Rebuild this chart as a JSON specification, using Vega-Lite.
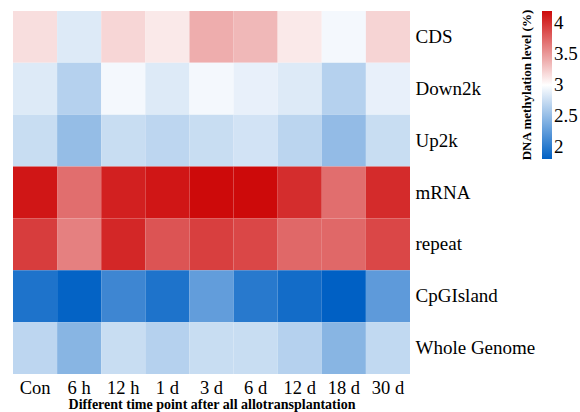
{
  "$schema": "https://vega.github.io/schema/vega-lite/v6.json",
  "width": 397,
  "height": 363,
  "autosize": "none",
  "padding": {"left": 13, "top": 11, "right": 170, "bottom": 38},
  "background": "white",
  "config": {
    "view": {"stroke": null},
    "font": "Liberation Serif",
    "legend": {"labelFont": "Liberation Serif", "titleFont": "Liberation Serif"}
  },
  "data": {
    "values": [
      {"region": "CDS", "time": "Con", "level": 3.16},
      {"region": "CDS", "time": "6 h", "level": 2.84},
      {"region": "CDS", "time": "12 h", "level": 3.2},
      {"region": "CDS", "time": "1 d", "level": 3.11},
      {"region": "CDS", "time": "3 d", "level": 3.4},
      {"region": "CDS", "time": "6 d", "level": 3.35},
      {"region": "CDS", "time": "12 d", "level": 3.11},
      {"region": "CDS", "time": "18 d", "level": 2.95},
      {"region": "CDS", "time": "30 d", "level": 3.21},
      {"region": "Down2k", "time": "Con", "level": 2.84},
      {"region": "Down2k", "time": "6 h", "level": 2.65},
      {"region": "Down2k", "time": "12 h", "level": 2.95},
      {"region": "Down2k", "time": "1 d", "level": 2.84},
      {"region": "Down2k", "time": "3 d", "level": 2.95},
      {"region": "Down2k", "time": "6 d", "level": 2.89},
      {"region": "Down2k", "time": "12 d", "level": 2.84},
      {"region": "Down2k", "time": "18 d", "level": 2.65},
      {"region": "Down2k", "time": "30 d", "level": 2.89},
      {"region": "Up2k", "time": "Con", "level": 2.74},
      {"region": "Up2k", "time": "6 h", "level": 2.5},
      {"region": "Up2k", "time": "12 h", "level": 2.74},
      {"region": "Up2k", "time": "1 d", "level": 2.69},
      {"region": "Up2k", "time": "3 d", "level": 2.74},
      {"region": "Up2k", "time": "6 d", "level": 2.79},
      {"region": "Up2k", "time": "12 d", "level": 2.68},
      {"region": "Up2k", "time": "18 d", "level": 2.49},
      {"region": "Up2k", "time": "30 d", "level": 2.74},
      {"region": "mRNA", "time": "Con", "level": 4.14},
      {"region": "mRNA", "time": "6 h", "level": 3.71},
      {"region": "mRNA", "time": "12 h", "level": 4.09},
      {"region": "mRNA", "time": "1 d", "level": 4.14},
      {"region": "mRNA", "time": "3 d", "level": 4.2},
      {"region": "mRNA", "time": "6 d", "level": 4.2},
      {"region": "mRNA", "time": "12 d", "level": 4.03},
      {"region": "mRNA", "time": "18 d", "level": 3.71},
      {"region": "mRNA", "time": "30 d", "level": 4.04},
      {"region": "repeat", "time": "Con", "level": 3.95},
      {"region": "repeat", "time": "6 h", "level": 3.62},
      {"region": "repeat", "time": "12 h", "level": 4.06},
      {"region": "repeat", "time": "1 d", "level": 3.84},
      {"region": "repeat", "time": "3 d", "level": 3.94},
      {"region": "repeat", "time": "6 d", "level": 3.9},
      {"region": "repeat", "time": "12 d", "level": 3.74},
      {"region": "repeat", "time": "18 d", "level": 3.74},
      {"region": "repeat", "time": "30 d", "level": 3.9},
      {"region": "CpGIsland", "time": "Con", "level": 1.94},
      {"region": "CpGIsland", "time": "6 h", "level": 1.82},
      {"region": "CpGIsland", "time": "12 h", "level": 2.09},
      {"region": "CpGIsland", "time": "1 d", "level": 1.94},
      {"region": "CpGIsland", "time": "3 d", "level": 2.26},
      {"region": "CpGIsland", "time": "6 d", "level": 1.99},
      {"region": "CpGIsland", "time": "12 d", "level": 1.89},
      {"region": "CpGIsland", "time": "18 d", "level": 1.8},
      {"region": "CpGIsland", "time": "30 d", "level": 2.24},
      {"region": "Whole Genome", "time": "Con", "level": 2.69},
      {"region": "Whole Genome", "time": "6 h", "level": 2.44},
      {"region": "Whole Genome", "time": "12 h", "level": 2.74},
      {"region": "Whole Genome", "time": "1 d", "level": 2.65},
      {"region": "Whole Genome", "time": "3 d", "level": 2.74},
      {"region": "Whole Genome", "time": "6 d", "level": 2.74},
      {"region": "Whole Genome", "time": "12 d", "level": 2.65},
      {"region": "Whole Genome", "time": "18 d", "level": 2.44},
      {"region": "Whole Genome", "time": "30 d", "level": 2.71}
    ]
  },
  "mark": {"type": "rect"},
  "encoding": {
    "x": {
      "field": "time",
      "type": "ordinal",
      "sort": ["Con", "6 h", "12 h", "1 d", "3 d", "6 d", "12 d", "18 d", "30 d"],
      "scale": {"paddingInner": 0, "paddingOuter": 0},
      "axis": {
        "title": "Different time point after all allotransplantation",
        "titleFont": "Liberation Serif",
        "titleFontSize": 14,
        "titleFontWeight": "bold",
        "titleColor": "black",
        "titlePadding": 1,
        "labelAngle": 0,
        "labelFont": "Liberation Serif",
        "labelFontSize": 18.5,
        "labelColor": "black",
        "labelPadding": 4,
        "ticks": false,
        "domain": false
      }
    },
    "y": {
      "field": "region",
      "type": "ordinal",
      "sort": ["CDS", "Down2k", "Up2k", "mRNA", "repeat", "CpGIsland", "Whole Genome"],
      "scale": {"paddingInner": 0, "paddingOuter": 0},
      "axis": {
        "orient": "right",
        "title": null,
        "labelFont": "Liberation Serif",
        "labelFontSize": 19,
        "labelColor": "black",
        "labelPadding": 5,
        "ticks": false,
        "domain": false
      }
    },
    "color": {
      "field": "level",
      "type": "quantitative",
      "scale": {
        "domain": [1.8, 3, 4.2],
        "range": ["#0060C4", "#FFFFFF", "#CD0A0A"],
        "interpolate": "rgb"
      },
      "legend": {
        "title": "DNA methylation level (%)",
        "orient": "none",
        "legendX": 508,
        "legendY": 0,
        "direction": "vertical",
        "gradientLength": 148,
        "gradientThickness": 10,
        "gradientStrokeWidth": 0,
        "titleOrient": "left",
        "titleAngle": 90,
        "titleAnchor": "middle",
        "titleFont": "Liberation Serif",
        "titleFontSize": 13,
        "titleFontWeight": "bold",
        "titleColor": "black",
        "titlePadding": 7,
        "labelFont": "Liberation Serif",
        "labelFontSize": 19,
        "labelColor": "black",
        "labelOffset": 2,
        "labelOverlap": false,
        "format": ".1~f",
        "values": [2, 2.5, 3, 3.5, 4],
        "padding": 0
      }
    }
  }
}
